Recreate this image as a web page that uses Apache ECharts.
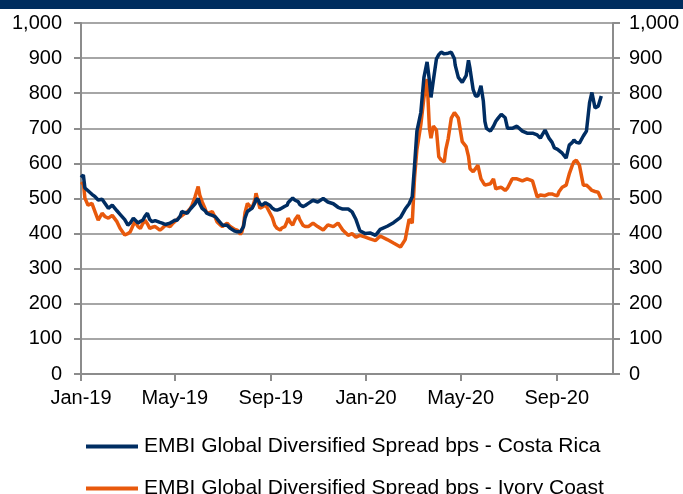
<!DOCTYPE html>
<html>
<head>
<meta charset="utf-8">
<script src="https://cdn.jsdelivr.net/npm/echarts@6/dist/echarts.min.js"></script>
<style>
html,body{margin:0;padding:0;background:#fff;}
#chart{width:683px;height:494px;}
</style>
</head>
<body>
<div id="chart"></div>
<script>
var seriesNames = ['EMBI Global Diversified Spread bps - Costa Rica', 'EMBI Global Diversified Spread bps - Ivory Coast'];

var dates = ['2019-01-01','2019-01-04','2019-01-06','2019-01-10','2019-01-15','2019-01-19','2019-01-23','2019-01-28','2019-02-01','2019-02-05','2019-02-10','2019-02-16','2019-02-20','2019-02-26','2019-03-02','2019-03-05','2019-03-09','2019-03-11','2019-03-15','2019-03-18','2019-03-21','2019-03-24','2019-03-27','2019-03-30','2019-04-02','2019-04-06','2019-04-08','2019-04-12','2019-04-15','2019-04-19','2019-04-21','2019-04-25','2019-04-28','2019-05-01','2019-05-04','2019-05-08','2019-05-10','2019-05-14','2019-05-17','2019-05-21','2019-05-23','2019-05-27','2019-05-31','2019-06-02','2019-06-05','2019-06-09','2019-06-11','2019-06-15','2019-06-18','2019-06-22','2019-06-24','2019-06-28','2019-07-01','2019-07-04','2019-07-07','2019-07-11','2019-07-13','2019-07-17','2019-07-20','2019-07-24','2019-07-26','2019-07-28','2019-07-30','2019-08-02','2019-08-05','2019-08-08','2019-08-12','2019-08-13','2019-08-16','2019-08-18','2019-08-21','2019-08-25','2019-08-27','2019-08-31','2019-09-03','2019-09-06','2019-09-09','2019-09-13','2019-09-15','2019-09-19','2019-09-22','2019-09-23','2019-09-26','2019-09-29','2019-10-02','2019-10-06','2019-10-08','2019-10-12','2019-10-15','2019-10-19','2019-10-25','2019-10-31','2019-11-07','2019-11-13','2019-11-20','2019-11-26','2019-12-02','2019-12-09','2019-12-14','2019-12-19','2019-12-24','2019-12-31','2020-01-06','2020-01-13','2020-01-19','2020-01-28','2020-02-05','2020-02-14','2020-02-20','2020-02-25','2020-02-29','2020-03-03','2020-03-06','2020-03-11','2020-03-15','2020-03-19','2020-03-22','2020-03-24','2020-03-27','2020-03-31','2020-04-03','2020-04-06','2020-04-10','2020-04-12','2020-04-15','2020-04-19','2020-04-23','2020-04-24','2020-04-28','2020-05-03','2020-05-08','2020-05-11','2020-05-13','2020-05-14','2020-05-17','2020-05-20','2020-05-23','2020-05-27','2020-05-30','2020-06-01','2020-06-03','2020-06-08','2020-06-12','2020-06-15','2020-06-18','2020-06-22','2020-06-24','2020-06-27','2020-06-30','2020-07-06','2020-07-12','2020-07-19','2020-07-25','2020-08-01','2020-08-07','2020-08-11','2020-08-13','2020-08-17','2020-08-22','2020-08-26','2020-08-29','2020-09-02','2020-09-04','2020-09-08','2020-09-13','2020-09-17','2020-09-21','2020-09-23','2020-09-26','2020-09-30','2020-10-05','2020-10-09','2020-10-13','2020-10-16','2020-10-20','2020-10-24','2020-10-28'];

var costaRica = [560,567,530,522,512,505,496,498,485,472,481,465,455,440,424,430,444,440,430,435,438,450,458,440,434,437,438,432,430,426,424,430,434,438,438,450,463,460,458,470,472,485,500,485,472,465,458,454,452,448,444,432,424,424,424,415,410,407,405,405,410,420,445,463,468,472,490,500,495,485,481,488,491,480,472,468,467,470,472,478,481,488,495,501,495,491,483,477,480,486,495,490,500,490,485,475,470,470,462,440,408,400,402,395,412,421,431,446,470,485,505,595,692,745,845,889,836,788,836,898,910,917,912,912,914,917,898,880,845,831,850,894,870,854,810,792,792,821,778,720,700,692,706,720,729,740,743,730,700,700,706,692,686,686,681,672,680,695,672,660,644,640,638,629,615,652,660,667,660,658,678,692,773,802,758,763,792];

var ivoryCoast = [540,545,501,481,486,462,438,458,448,444,452,434,415,396,400,405,425,434,420,415,428,438,428,415,418,420,415,410,415,424,422,420,428,434,440,448,452,458,462,472,480,505,534,510,491,470,458,460,463,445,434,425,420,425,430,420,415,412,410,398,405,424,460,486,478,472,500,515,490,472,476,481,475,458,445,424,415,410,416,420,435,444,432,424,440,452,440,424,420,420,430,420,410,425,420,430,410,395,400,390,395,390,385,380,393,383,373,362,383,441,430,560,640,710,788,840,700,672,706,695,619,610,604,640,670,729,745,749,729,662,648,620,585,580,576,585,595,556,545,538,540,542,556,527,530,532,528,523,530,556,556,550,556,550,504,510,513,508,513,513,510,508,520,532,538,570,595,605,609,595,538,538,530,523,520,518,498];

var tickDates = ['2019-01-01','2019-05-01','2019-09-01','2020-01-01','2020-05-01','2020-09-01'];
var tickLabels = ['Jan-19','May-19','Sep-19','Jan-20','May-20','Sep-20'];
var axisStart = '2019-01-01';
var axisEnd = '2020-11-12';

function ts(s){ var p = s.split('-'); return Date.UTC(+p[0], +p[1]-1, +p[2]); }

var tickValues = tickDates.map(ts);
var labelMap = {};
tickValues.forEach(function(v,i){ labelMap[v] = tickLabels[i]; });

function pairs(vals){ return dates.map(function(d,i){ return [ts(d), vals[i]]; }); }

var axisColor = '#8c8c8c';
var gridColor = '#a6a6a6';
var font = 'Liberation Sans, Arial, sans-serif';

function yAx(pos, margin, showSplit){
  return {
    type: 'value', position: pos, min: 0, max: 1000, interval: 100,
    axisLine: {show: true, lineStyle: {color: axisColor, width: 2}},
    axisTick: {show: true, length: 7, lineStyle: {color: axisColor, width: 2}},
    splitLine: {show: showSplit, lineStyle: {color: gridColor, width: 2}},
    axisLabel: {
      margin: margin, color: '#000', fontFamily: font, fontSize: 20,
      formatter: function(v){ return v.toLocaleString('en-US'); }
    }
  };
}

var chart = echarts.init(document.getElementById('chart'), null, {renderer: 'canvas'});
chart.setOption({
  animation: false,
  backgroundColor: '#fff',
  graphic: [{type: 'rect', left: 0, top: 0, shape: {width: 683, height: 9}, style: {fill: '#002d5e'}}],
  grid: {left: 81, right: 70, top: 23, bottom: 120, containLabel: false},
  legend: [
    {data: [seriesNames[0]], left: 81, top: 431, icon: 'rect', itemWidth: 52, itemHeight: 4, itemGap: 0,
     textStyle: {color: '#000', fontFamily: font, fontSize: 21, padding: [0,0,0,1]}},
    {data: [seriesNames[1]], left: 81, top: 473, icon: 'rect', itemWidth: 52, itemHeight: 4, itemGap: 0,
     textStyle: {color: '#000', fontFamily: font, fontSize: 21, padding: [0,0,0,1]}}
  ],
  xAxis: {
    type: 'value', min: ts(axisStart), max: ts(axisEnd),
    axisLine: {show: true, lineStyle: {color: axisColor, width: 2}},
    axisTick: {show: true, length: 7, customValues: tickValues, lineStyle: {color: axisColor, width: 2}},
    splitLine: {show: false},
    axisLabel: {
      customValues: tickValues, margin: 14, color: '#000', fontFamily: font, fontSize: 20,
      hideOverlap: false,
      formatter: function(v){ return labelMap[v] || ''; }
    }
  },
  yAxis: [yAx('left', 19, true), yAx('right', 16, false)],
  series: [
    {name: seriesNames[0], type: 'line', yAxisIndex: 0, data: pairs(costaRica), showSymbol: false, symbol: 'none',
     lineStyle: {color: '#002d62', width: 3.5}, itemStyle: {color: '#002d62'}, z: 3},
    {name: seriesNames[1], type: 'line', yAxisIndex: 0, data: pairs(ivoryCoast), showSymbol: false, symbol: 'none',
     lineStyle: {color: '#e8590c', width: 3.5}, itemStyle: {color: '#e8590c'}, z: 2}
  ]
});
</script>
</body>
</html>
